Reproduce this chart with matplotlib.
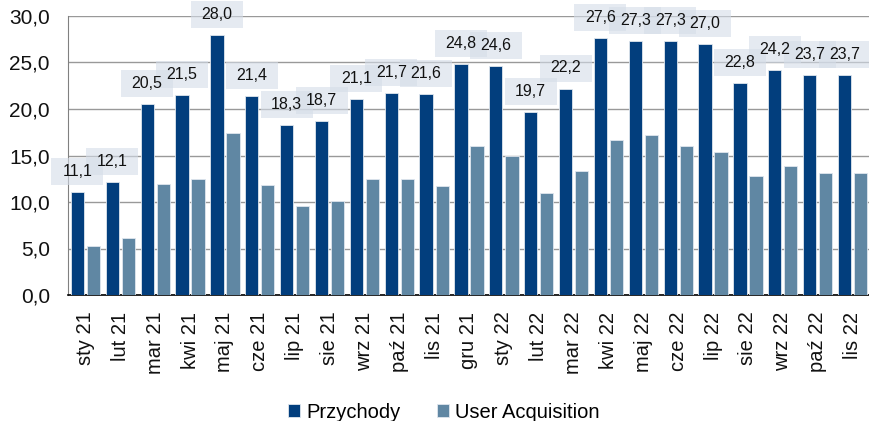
import matplotlib
matplotlib.use("Agg")
import matplotlib.pyplot as plt
import matplotlib.transforms as mtransforms
from matplotlib.patches import Rectangle
import numpy as np

plt.rcParams['font.family'] = ['Liberation Sans', 'DejaVu Sans']

months = ["sty 21", "lut 21", "mar 21", "kwi 21", "maj 21", "cze 21", "lip 21", "sie 21",
          "wrz 21", "paź 21", "lis 21", "gru 21", "sty 22", "lut 22", "mar 22", "kwi 22",
          "maj 22", "cze 22", "lip 22", "sie 22", "wrz 22", "paź 22", "lis 22"]
przychody = [11.1, 12.1, 20.5, 21.5, 28.0, 21.4, 18.3, 18.7, 21.1, 21.7, 21.6, 24.8,
             24.6, 19.7, 22.2, 27.6, 27.3, 27.3, 27.0, 22.8, 24.2, 23.7, 23.7]
user_acq = [5.3, 6.1, 11.9, 12.5, 17.4, 11.8, 9.6, 10.1, 12.5, 12.5, 11.7, 16.0,
            14.9, 11.0, 13.3, 16.7, 17.2, 16.0, 15.4, 12.8, 13.9, 13.1, 13.1]

c_dark = "#023E7D"
c_light = "#6087A3"

fig = plt.figure(figsize=(8.7, 4.21), dpi=100)
ax = fig.add_axes([68/870, (421-295)/421, (870-68)/870, (295-16)/421])

x = np.arange(len(months))
w = 0.38
ax.bar(x - 0.23, przychody, w, color=c_dark, edgecolor="#dfe6ee", linewidth=0.6, zorder=3,
       label="Przychody")
ax.bar(x + 0.23, user_acq, w, color=c_light, edgecolor="#dfe6ee", linewidth=0.6, zorder=3,
       label="User Acquisition")

for xi, v in zip(x, przychody):
    lab = f"{v:.1f}".replace(".", ",")
    trans = fig.dpi_scale_trans + mtransforms.ScaledTranslation(xi - 0.23, v, ax.transData)
    ax.add_patch(Rectangle((-0.26, 0.07), 0.52, 0.27, transform=trans, fc="#d5dde8",
                           ec="none", alpha=0.6, zorder=4, clip_on=False))
    ax.annotate(lab, (xi - 0.23, v), xytext=(0, 14.8),
                textcoords="offset points", ha="center", va="center", fontsize=11.5,
                color="#111111", zorder=6, annotation_clip=False)

ax.set_xlim(-0.5, len(months) - 0.5)
ax.set_ylim(0, 30)
ax.set_yticks(np.arange(0, 31, 5))
ax.set_yticklabels([f"{v:.1f}".replace(".", ",") for v in np.arange(0, 31, 5)], fontsize=15,
                   color="#111111")
ax.set_xticks(x)
ax.set_xticklabels(months, rotation=90, fontsize=14.5, color="#111111")
ax.tick_params(axis="y", length=0, pad=13)
ax.tick_params(axis="x", length=0, pad=12)
ax.yaxis.grid(True, color="#999999", linewidth=1.0, zorder=0)
ax.set_axisbelow(True)
for s in ["top", "right"]:
    ax.spines[s].set_visible(False)
ax.spines["left"].set_color("#808080")
ax.spines["bottom"].set_color("#000000")
ax.spines["bottom"].set_linewidth(1.2)

fig.legend(loc="center", bbox_to_anchor=(0.51, 9/421), ncol=2, frameon=False,
           fontsize=14.5, handlelength=0.6, handleheight=0.6, handletextpad=0.3,
           columnspacing=1.8, borderpad=0)

fig.savefig("out.png", dpi=100)
